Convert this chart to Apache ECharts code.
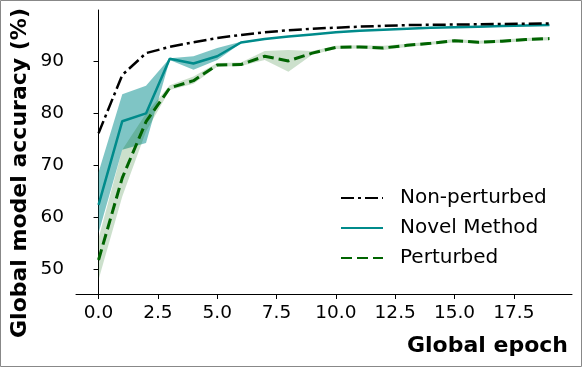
<!DOCTYPE html>
<html><head><meta charset="utf-8">
<script src="https://cdn.jsdelivr.net/npm/echarts@6/dist/echarts.min.js"></script>
<style>html,body{margin:0;padding:0;background:#fff}#c{width:582px;height:367px}</style>
</head><body><div id="c"></div>
<script>
const epochs = [0,1,2,3,4,5,6,7,8,9,10,11,12,13,14,15,16,17,18,19];
const nonPerturbed = [76.2,87.4,91.6,92.8,93.7,94.5,95.1,95.6,96.0,96.3,96.5,96.7,96.85,97.0,97.05,97.1,97.15,97.2,97.25,97.3];
const novel = [62.4,78.5,80.0,90.5,89.6,91.0,93.65,94.3,94.8,95.2,95.6,95.9,96.1,96.3,96.5,96.6,96.7,96.8,96.9,97.0];
const novelLow = [57.0,73.0,74.3,90.3,88.4,90.3,93.5,94.2,94.7,95.1,95.5,95.8,96.0,96.2,96.4,96.5,96.6,96.7,96.8,96.9];
const novelHigh = [68.7,83.7,85.3,90.6,91.0,92.6,93.8,94.4,94.9,95.3,95.7,96.0,96.2,96.4,96.6,96.7,96.8,96.9,97.0,97.1];
const perturbed = [51.8,67.6,78.4,84.9,86.3,89.3,89.4,91.0,90.1,91.6,92.7,92.8,92.6,93.1,93.5,94.0,93.7,93.9,94.2,94.4];
const perturbedLow = [48.0,64.0,76.5,84.5,85.7,89.0,89.1,90.3,88.0,91.3,92.4,92.5,92.2,92.8,93.2,93.7,93.4,93.6,93.9,94.1];
const perturbedHigh = [56.0,73.0,80.0,85.4,87.1,89.7,89.8,92.0,92.2,92.0,93.0,93.1,93.0,93.4,93.8,94.3,94.0,94.2,94.5,94.7];
const xTicks = [0,2.5,5,7.5,10,12.5,15,17.5];
const yTicks = [50,60,70,80,90];

const FONT = 'DejaVu Sans';
function band(xs, lo, hi, color, z) {
  return {
    type: 'custom', z: z, silent: true,
    data: xs.map((x,i)=>[x, lo[i], hi[i]]),
    renderItem: function(params, api) {
      if (params.dataIndex !== 0) return null;
      const pts = [];
      for (let i=0;i<xs.length;i++) pts.push(api.coord([xs[i], hi[i]]));
      for (let i=xs.length-1;i>=0;i--) pts.push(api.coord([xs[i], lo[i]]));
      return {type:'polygon', shape:{points:pts}, style:{fill:color, stroke:null}};
    }
  };
}
const chart = echarts.init(document.getElementById('c'), null, {renderer:'canvas'});
chart.setOption({
  animation: false,
  grid: {left:76, right:10, top:10, bottom:73},
  xAxis: {
    type:'value', min:-0.95, max:19.95,
    splitLine:{show:false},
    axisLine:{show:true, onZero:false, lineStyle:{color:'#000', width:1}},
    axisTick:{show:true, customValues:xTicks, length:5, lineStyle:{color:'#000'}},
    axisLabel:{customValues:xTicks, formatter:v=>v.toFixed(1), color:'#000', fontFamily:FONT, fontSize:18.5, margin:10}
  },
  yAxis: {
    type:'value', min:45.25, max:99.9,
    splitLine:{show:false},
    axisLine:{show:true, lineStyle:{color:'#000', width:1}},
    axisTick:{show:true, customValues:yTicks, length:5, lineStyle:{color:'#000'}},
    axisLabel:{customValues:yTicks, color:'#000', fontFamily:FONT, fontSize:18.5, margin:12}
  },
  legend: {
    orient:'vertical', left:335, top:183, itemWidth:42, itemHeight:12, itemGap:10,
    itemStyle:{opacity:0, borderWidth:0},
    textStyle:{fontFamily:FONT, fontSize:20, color:'#000', padding:[0,0,0,12]},
    data:['Non-perturbed','Novel Method','Perturbed']
  },
  graphic: [
    {type:'rect', shape:{x:0.5,y:0.5,width:581,height:366}, style:{fill:null, stroke:'#888', lineWidth:1}, z:100},
    {type:'text', x:20, y:173, rotation:Math.PI/2, style:{text:'Global model accuracy (%)', font:'bold 22px "DejaVu Sans"', fill:'#000', align:'center', verticalAlign:'middle'}},
    {type:'text', x:568, y:346, style:{text:'Global epoch', font:'bold 22px "DejaVu Sans"', fill:'#000', align:'right', verticalAlign:'middle'}}
  ],
  series: [
    band(epochs, novelLow, novelHigh, 'rgba(0,139,139,0.5)', 1),
    band(epochs, perturbedLow, perturbedHigh, 'rgba(0,100,0,0.2)', 1),
    {name:'Non-perturbed', type:'line', data:epochs.map((x,i)=>[x,nonPerturbed[i]]), showSymbol:false, symbol:'none', z:5,
      lineStyle:{color:'#000', width:2.5, type:[13,4,3,4]}, itemStyle:{color:'#000'}},
    {name:'Novel Method', type:'line', data:epochs.map((x,i)=>[x,novel[i]]), showSymbol:false, symbol:'none', z:4,
      lineStyle:{color:'#008b8b', width:2.5}, itemStyle:{color:'#008b8b'}},
    {name:'Perturbed', type:'line', data:epochs.map((x,i)=>[x,perturbed[i]]), showSymbol:false, symbol:'none', z:6,
      lineStyle:{color:'#006400', width:3, type:[11,5]}, itemStyle:{color:'#006400'}}
  ]
});
</script></body></html>
